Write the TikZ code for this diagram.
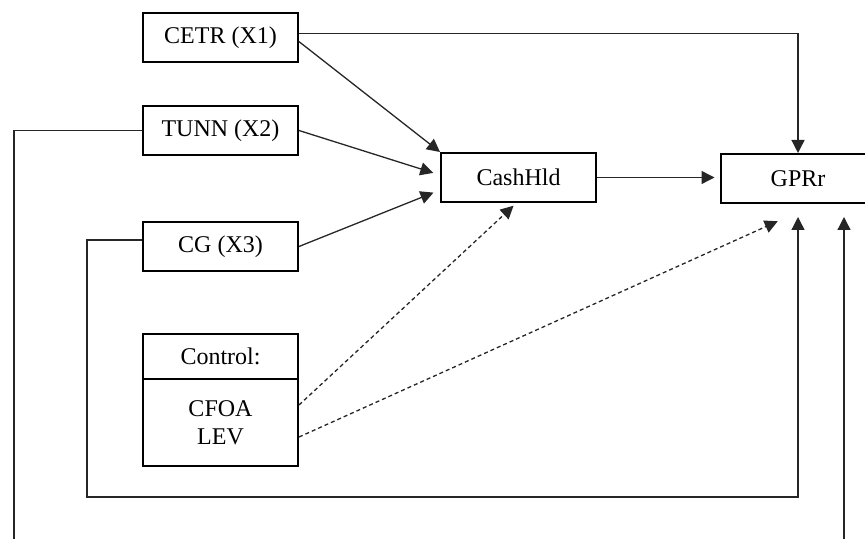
\documentclass[tikz,border=0pt]{standalone}
\usepackage{fontspec}
\setmainfont{Liberation Serif}
\usetikzlibrary{arrows.meta, positioning}

\begin{document}
\begin{tikzpicture}[x=0.5pt, y=-0.5pt]
				\tikzset{VarBox/.style = {draw, line width=1pt, minimum width=77.5pt, minimum height=24.5pt, inner sep=0pt, font=\fontsize{12}{14}\selectfont}}
				\tikzset{EdgeArrow/.style = {black!85, line width=0.65pt, -{Triangle[length=6.5pt,width=6.5pt]}}}
				\tikzset{CtrlArrow/.style = {EdgeArrow, dash pattern=on 2pt off 1.5pt}}
				\clip (0,0) rectangle (865,539);
				
				\node[VarBox] (X1) at (220.5,37.5) {CETR (X1)};
				\node[VarBox] (X2) at (220.5,130.5) {TUNN (X2)};
				\node[VarBox] (X3) at (220.5,246.5) {CG (X3)};
				\node[VarBox, minimum height=22.5pt] (CtrlHead) at (220.5,356.5) {Control:};
				\node[VarBox, minimum height=43.5pt, align=center] (CtrlBody) at (220.5,422.5) {CFOA\\LEV};
				
				\node[VarBox] (Cash) at (518.5,177.5) {CashHld};
				\node[VarBox] (GPR) at (798,178.5) {GPRr};
				
				\coordinate (LoopCG) at (87,497);
				\coordinate (LoopTU) at (14,580);
				
				%%%%%%%%%%%%%%%%%%%%%%%%%%%%%%
				
				\draw[EdgeArrow] (X1.3) -| (GPR.north);
				\draw[EdgeArrow] (X1.-3) -- (Cash.north west);
				\draw[EdgeArrow, shorten >=3.5pt] (X2.east) -- ([yshift=1.25pt]Cash.west);
				\draw[EdgeArrow, shorten >=3.5pt] (X3.east) -- ([yshift=-6.25pt]Cash.west);
				\draw[EdgeArrow, shorten >=2.5pt] (Cash.east) -- (Cash.east -| GPR.west);
				
				\draw[CtrlArrow, shorten >=2pt] ([yshift=8.75pt]CtrlBody.east) -- ([xshift=-1pt]Cash.south);
				\draw[CtrlArrow, shorten >=21pt] ([yshift=-7.25pt]CtrlBody.east) -- ([xshift=9pt]GPR.south);
				
				\draw[EdgeArrow, shorten >=6.5pt] ([yshift=3.25pt]X3.west) -| (LoopCG) -| (GPR.south);
				\draw[EdgeArrow, shorten >=6.5pt] (X2.west) -| (LoopTU) -| ([xshift=23pt]GPR.south);
				
\end{tikzpicture}
\end{document}
